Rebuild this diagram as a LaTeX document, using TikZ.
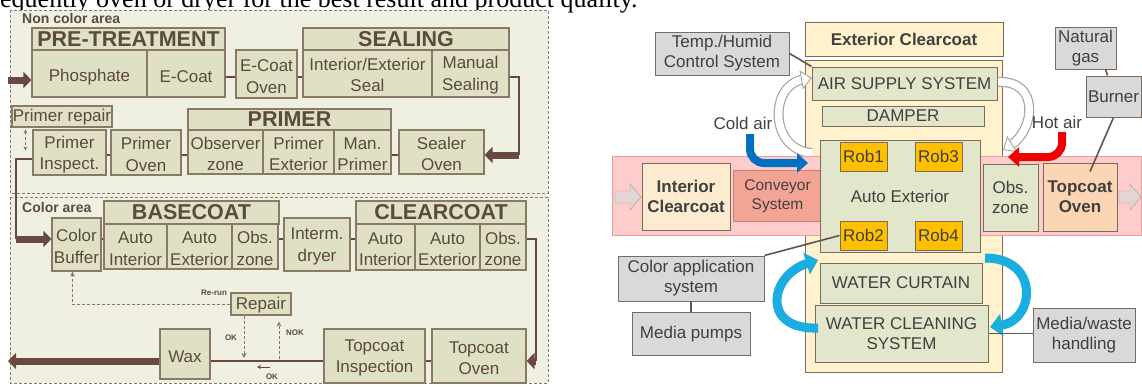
\documentclass[tikz,border=0pt]{standalone}
\usepackage{fontspec}
\setmainfont{Liberation Serif}
\setsansfont{Liberation Sans}
\usetikzlibrary{arrows.meta}
\definecolor{lbg}{HTML}{F0F0E2}
\definecolor{lfill}{HTML}{E0E0C4}
\definecolor{lbord}{HTML}{8A7868}
\definecolor{ltext}{HTML}{5A4A40}
\definecolor{lline}{HTML}{6A4A40}
\definecolor{rbord}{HTML}{7A6A60}
\definecolor{rtext}{HTML}{404040}
\definecolor{ryel}{HTML}{FFF2CC}
\definecolor{rgreen}{HTML}{E2E6CA}
\definecolor{rgray}{HTML}{D9D9D9}
\definecolor{rob}{HTML}{FFC000}
\definecolor{pinkb}{HTML}{FFCCCC}
\definecolor{pinkd}{HTML}{E6A0A0}
\definecolor{peach}{HTML}{FDEBD0}
\definecolor{salmon}{HTML}{F4A494}
\definecolor{orng}{HTML}{FCD5B4}
\definecolor{cblue}{HTML}{0070C0}
\definecolor{cred}{HTML}{EE0000}
\definecolor{ccyan}{HTML}{1AAEE0}
\definecolor{garr}{HTML}{A8A8A0}
% \bxs[style]{text shift}{name}{x1}{y1}{x2}{y2}{text}
\newcommand{\bxs}[8][]{%
  \pgfmathsetmacro\bxw{#6-#4}%
  \pgfmathsetmacro\bxh{#7-#5}%
  \node[#1,minimum width=\bxw pt,minimum height=\bxh pt] (#3) at ({(#4+#6)/2},{(#5+#7)/2}) {};
  \node[#1,draw=none,fill=none,minimum width=0pt,minimum height=0pt] (#3-t) at ({(#4+#6)/2},{(#5+#7)/2+#2}) {#8};}
\tikzset{
  lbox/.style={draw=lbord, fill=lfill, line width=1.1pt, inner sep=0pt, align=center, text=ltext,
    font=\sffamily\fontsize{17}{21.5}\selectfont},
  lhead/.style={lbox, font=\sffamily\bfseries\fontsize{21.5}{22}\selectfont},
  conn/.style={draw=lline, line width=2pt},
  thk/.style={draw=lline, line width=7pt, -{Triangle[width=16pt,length=8pt]}},
  dsh/.style={draw=lbord, line width=1pt, dash pattern=on 3pt off 2pt},
  dtip/.style={-{Stealth[length=5pt,width=5pt]}},
  small/.style={text=ltext, font=\sffamily\bfseries\fontsize{8}{9}\selectfont, inner sep=0pt},
  area/.style={draw=lbord, line width=0.8pt, dash pattern=on 3pt off 2pt},
  rbox/.style={draw=rbord, line width=1pt, inner sep=0pt, align=center, text=rtext,
    font=\sffamily\fontsize{17}{20}\selectfont},
  gbox/.style={rbox, fill=rgreen},
  graybox/.style={rbox, fill=rgray},
  robbox/.style={rbox, fill=rob, draw=rbord},
  rline/.style={draw=rbord!80!black, line width=1.6pt},
  lbl/.style={text=rtext, font=\sffamily\fontsize{17}{20}\selectfont, inner sep=0pt},
}
\begin{document}
\begin{tikzpicture}[x=1pt,y=-1pt]
\useasboundingbox (0,0) rectangle (1142,386);
% cut caption line at top
\node[anchor=base west, inner sep=0pt, text=black, font=\rmfamily\fontsize{26}{28}\selectfont] (cap) at (0,7) {equently oven or dryer for the best result and product quality.};

% ================= LEFT =================
\fill[lbg] (10,10) rectangle (548,383);
\draw[area] (10,10) rectangle (548,193);
\draw[area] (10,197) rectangle (548,383);
\node[anchor=west, text=ltext, font=\sffamily\bfseries\fontsize{14}{15}\selectfont, inner sep=0pt] (nca) at (22,18) {Non color area};
\node[anchor=west, text=ltext, font=\sffamily\bfseries\fontsize{14}{15}\selectfont, inner sep=0pt] (ca) at (22,207) {Color area};

\coordinate (y77) at (0,77);
\coordinate (y80) at (8,80);
\coordinate (y155) at (0,155);
\coordinate (y159) at (0,159);
\coordinate (y239) at (0,239);
\coordinate (y361) at (0,361);
\coordinate (xr1) at (519,0);
\coordinate (xr2) at (536,0);
\coordinate (xl) at (16,0);
\coordinate (exit) at (8,361);

\bxs[lhead]{0}{pth}{32}{28}{225}{50}{PRE-TREATMENT}
\bxs[lbox]{3.5}{phos}{32}{50}{147}{97}{Phosphate}
\bxs[lbox]{3.5}{ecoat}{147}{50}{225}{97}{E-Coat}
\bxs[lbox]{2.5}{ecoven}{236}{50}{297}{98}{E-Coat\\Oven}
\bxs[lhead]{0}{sealh}{303}{28}{509}{50}{SEALING}
\bxs[lbox]{1.5}{ieseal}{303}{50}{432}{97}{Interior/Exterior\\Seal}
\bxs[lbox]{1.5}{manseal}{432}{50}{509}{97}{Manual\\Sealing}
\bxs[lbox]{2}{sealov}{399}{130}{484}{174}{Sealer\\Oven}
\bxs[lhead]{0}{primh}{188}{109}{391}{130}{PRIMER}
\bxs[lbox]{2}{obsz}{188}{130}{263}{174}{Observer\\zone}
\bxs[lbox]{2}{primext}{263}{130}{334}{174}{Primer\\Exterior}
\bxs[lbox]{2}{manprim}{334}{130}{391}{174}{Man.\\Primer}
\bxs[lbox]{2}{primov}{111}{130}{181}{175}{Primer\\Oven}
\bxs[lbox]{2}{primins}{33}{130}{106}{175}{Primer\\Inspect.}
\bxs[lbox]{1}{primrep}{12}{106}{112}{127}{Primer repair}

\draw[thk] (y80) -- (phos.west |- y80);
\draw[conn] (ecoat.east |- y77) -- (ecoven.west |- y77);
\draw[conn] (ecoven.east |- y77) -- (ieseal.west |- y77);
\draw[conn] (manseal.east |- y77) -| (xr1 |- y155);
\draw[thk] (xr1 |- y155) -- (sealov.east |- y155);
\draw[conn] (manprim.east |- y155) -- (sealov.west |- y155);
\draw[conn] (primov.east |- y155) -- (obsz.west |- y155);
\draw[conn] (primins.east |- y155) -- (primov.west |- y155);
\draw[conn] (primins.west |- y159) -| (xl |- y239);
\draw[dsh, {Stealth[length=4pt,width=4pt]}-{Stealth[length=4pt,width=4pt]}] ([xshift=-7pt]primins.north west) -- ([xshift=-7pt,yshift=-21pt]primins.north west);

\bxs[lbox]{2}{colbuf}{52}{218}{101}{271}{Color\\Buffer}
\bxs[lhead]{0}{bch}{104}{201}{279}{224}{BASECOAT}
\bxs[lbox]{2}{bcai}{104}{224}{167}{269}{Auto\\Interior}
\bxs[lbox]{2}{bcae}{167}{224}{232}{269}{Auto\\Exterior}
\bxs[lbox]{2}{bcobs}{232}{224}{278}{269}{Obs.\\zone}
\bxs[lbox]{2}{dryer}{284}{218}{350}{271}{Interm.\\dryer}
\bxs[lhead]{0}{cch}{356}{201}{526}{224}{CLEARCOAT}
\bxs[lbox]{2}{ccai}{356}{224}{415}{270}{Auto\\Interior}
\bxs[lbox]{2}{ccae}{415}{224}{480}{270}{Auto\\Exterior}
\bxs[lbox]{2}{ccobs}{480}{224}{526}{270}{Obs.\\zone}
\bxs[lbox]{2}{tcov}{432}{329}{526}{383}{Topcoat\\Oven}
\bxs[lbox]{2}{tcins}{324}{329}{425}{383}{Topcoat\\Inspection}
\bxs[lbox]{2.5}{wax}{160}{329}{210}{379}{Wax}
\bxs[lbox]{1.5}{repair}{231}{293}{291}{315}{Repair}

\draw[thk] (xl |- y239) -- (colbuf.west |- y239);
\draw[conn] (colbuf.east |- y239) -- (bcai.west |- y239);
\draw[conn] (bcobs.east |- y239) -- (dryer.west |- y239);
\draw[conn] (dryer.east |- y239) -- (ccai.west |- y239);
\draw[conn] (ccobs.east |- y239) -| (xr2 |- y361);
\draw[thk] (xr2 |- y361) -- (tcov.east |- y361);
\draw[conn] (tcov.west |- y361) -- (tcins.east |- y361);
\draw[conn] (tcins.west |- y361) -- (wax.east |- y361);
\draw[thk] (wax.west |- y361) -- (exit);

\draw[dsh, dtip] (repair.west) -| ([xshift=-4pt]colbuf.south);
\node[small, anchor=south] (rerun) at (214,296) {Re-run};
\coordinate (okd) at (244,358);
\draw[dsh, dtip] (repair.south -| okd) -- (okd);
\node[small] (ok1) at (231,338) {OK};
\coordinate (nokb) at (279,359);
\draw[dsh, dtip] (nokb) -- ([yshift=-6pt]repair.south -| nokb);
\node[small] (nok) at (295,333) {NOK};
\coordinate (oka) at (270,367);
\coordinate (okb) at (257,367);
\draw[draw=lline, line width=1pt, -{Stealth[length=4pt,width=4pt]}] (oka) -- (okb);
\node[small] (ok2) at (272,377) {OK};

% ================= RIGHT =================
\bxs[rbox, fill=ryel]{0}{col}{805}{60}{1002}{372}{}
\bxs[rbox, fill=ryel, font=\sffamily\bfseries\fontsize{17}{20}\selectfont]{0}{ehdr}{805}{22}{1003}{56}{Exterior Clearcoat}
\bxs[gbox]{0}{air}{812}{67}{997}{100}{AIR SUPPLY SYSTEM}
\bxs[gbox]{0}{damp}{822}{106}{984}{126}{DAMPER}

% gray curved arrows
\coordinate (ga1s) at (812,153); \coordinate (ga1e) at (812,78);
\coordinate (ga2s) at (998,82); \coordinate (ga2e) at (1003,150);
\foreach \w/\c in {10/garr, 7.5/white}{
  \draw[line width=\w pt, draw=\c, shorten >=9pt] (ga1s) .. controls (769,150) and (769,85) .. (ga1e);
  \draw[line width=\w pt, draw=\c, shorten >=9pt] (ga2s) .. controls (1040,80) and (1035,130) .. (ga2e);
}
\draw[draw=garr, line width=0.9pt, -{Triangle[width=19pt,length=11pt,fill=white]}] (808,78.7) -- (ga1e);
\draw[draw=garr, line width=0.9pt, -{Triangle[width=19pt,length=11pt,fill=white]}] (1006.5,147.8) -- (ga2e);

% pink band
\bxs[rbox, fill=pinkb, draw=pinkd]{0}{band}{612}{156}{1141}{235}{}
\fill[fill=rgray!70!pinkb, draw=rbord!70] (615,191) -- (630,191) -- (630,184) -- (641,197) -- (630,210) -- (630,203) -- (615,203) -- cycle;
\fill[fill=rgray!70!pinkb, draw=rbord!70] (1119,191) -- (1130,191) -- (1130,184) -- (1141,197) -- (1130,210) -- (1130,203) -- (1119,203) -- cycle;
\bxs[rbox, fill=peach, font=\sffamily\bfseries\fontsize{17}{20}\selectfont]{0}{icc}{642}{163}{730}{230}{Interior\\Clearcoat}
\bxs[rbox, fill=salmon, draw=salmon!80!black, font=\sffamily\fontsize{15.5}{19}\selectfont]{1}{conv}{733}{170}{822}{221}{Conveyor\\System}
\bxs[gbox]{0}{autox}{820}{140}{980}{252}{Auto Exterior}
\bxs[robbox]{0}{rob1}{840}{142}{887}{171}{Rob1}
\bxs[robbox]{0}{rob3}{915}{142}{962}{171}{Rob3}
\bxs[robbox]{0}{rob2}{840}{221}{887}{250}{Rob2}
\bxs[robbox]{0}{rob4}{915}{221}{962}{250}{Rob4}
\bxs[gbox]{0}{obs}{983}{164}{1038}{231}{Obs.\\zone}
\bxs[rbox, fill=orng, font=\sffamily\bfseries\fontsize{17}{20}\selectfont]{0}{tco}{1043}{163}{1117}{231}{Topcoat\\Oven}

\bxs[gbox]{0}{wcur}{820}{263}{982}{303}{WATER CURTAIN}
\bxs[gbox]{0}{wcs}{815}{305}{988}{362}{WATER CLEANING\\SYSTEM}

% cold / hot air
\node[lbl] (cold) at (743,123) {Cold air};
\node[lbl] (hot) at (1057,122) {Hot air};
\coordinate (cas1) at (750,134); \coordinate (cae1) at (808,163);
\coordinate (has1) at (1062,132); \coordinate (hae1) at (1008,157);
\draw[draw=cblue, line width=8pt, rounded corners=14pt, -{Triangle[width=19pt,length=11pt]}] (cas1) |- (cae1);
\draw[draw=cred, line width=8pt, rounded corners=14pt, -{Triangle[width=19pt,length=11pt]}] (has1) |- (hae1);

% cyan curved arrows
\coordinate (c1s) at (818,328); \coordinate (c1e) at (818,260);
\coordinate (c2s) at (985,258); \coordinate (c2e) at (990,327);
\draw[draw=ccyan, line width=9pt, -{Triangle[width=22pt,length=12pt]}] (c1s) .. controls (760,330) and (770,275) .. (c1e);
\draw[draw=ccyan, line width=9pt, -{Triangle[width=22pt,length=12pt]}] (c2s) .. controls (1040,258) and (1035,320) .. (c2e);

% gray boxes
\bxs[graybox]{0}{temp}{655}{32}{789}{75}{Temp./Humid\\Control System}
\bxs[graybox]{0}{gas}{1055}{27}{1116}{69}{Natural\\gas}
\bxs[graybox]{0}{burner}{1086}{76}{1141}{117}{Burner}
\bxs[graybox]{0}{cas}{618}{256}{764}{301}{Color application\\system}
\bxs[graybox]{1}{pumps}{632}{312}{750}{355}{Media pumps}
\bxs[graybox]{0}{mwh}{1033}{308}{1135}{362}{Media/waste\\handling}

\draw[rline] (temp.east) -- (air.north west);
\draw[rline] ([xshift=20pt]gas.south) -- ([xshift=-6pt]burner.north);
\draw[rline] (burner.south) -- ([xshift=10pt,yshift=-9pt]tco.north);
\draw[rline] (cas.north east) -- (rob2.west);
\draw[rline] (cas.south) -- (pumps.north);
\draw[rline] (wcs.east) -- (mwh.west |- wcs.east);
\end{tikzpicture}
\end{document}
